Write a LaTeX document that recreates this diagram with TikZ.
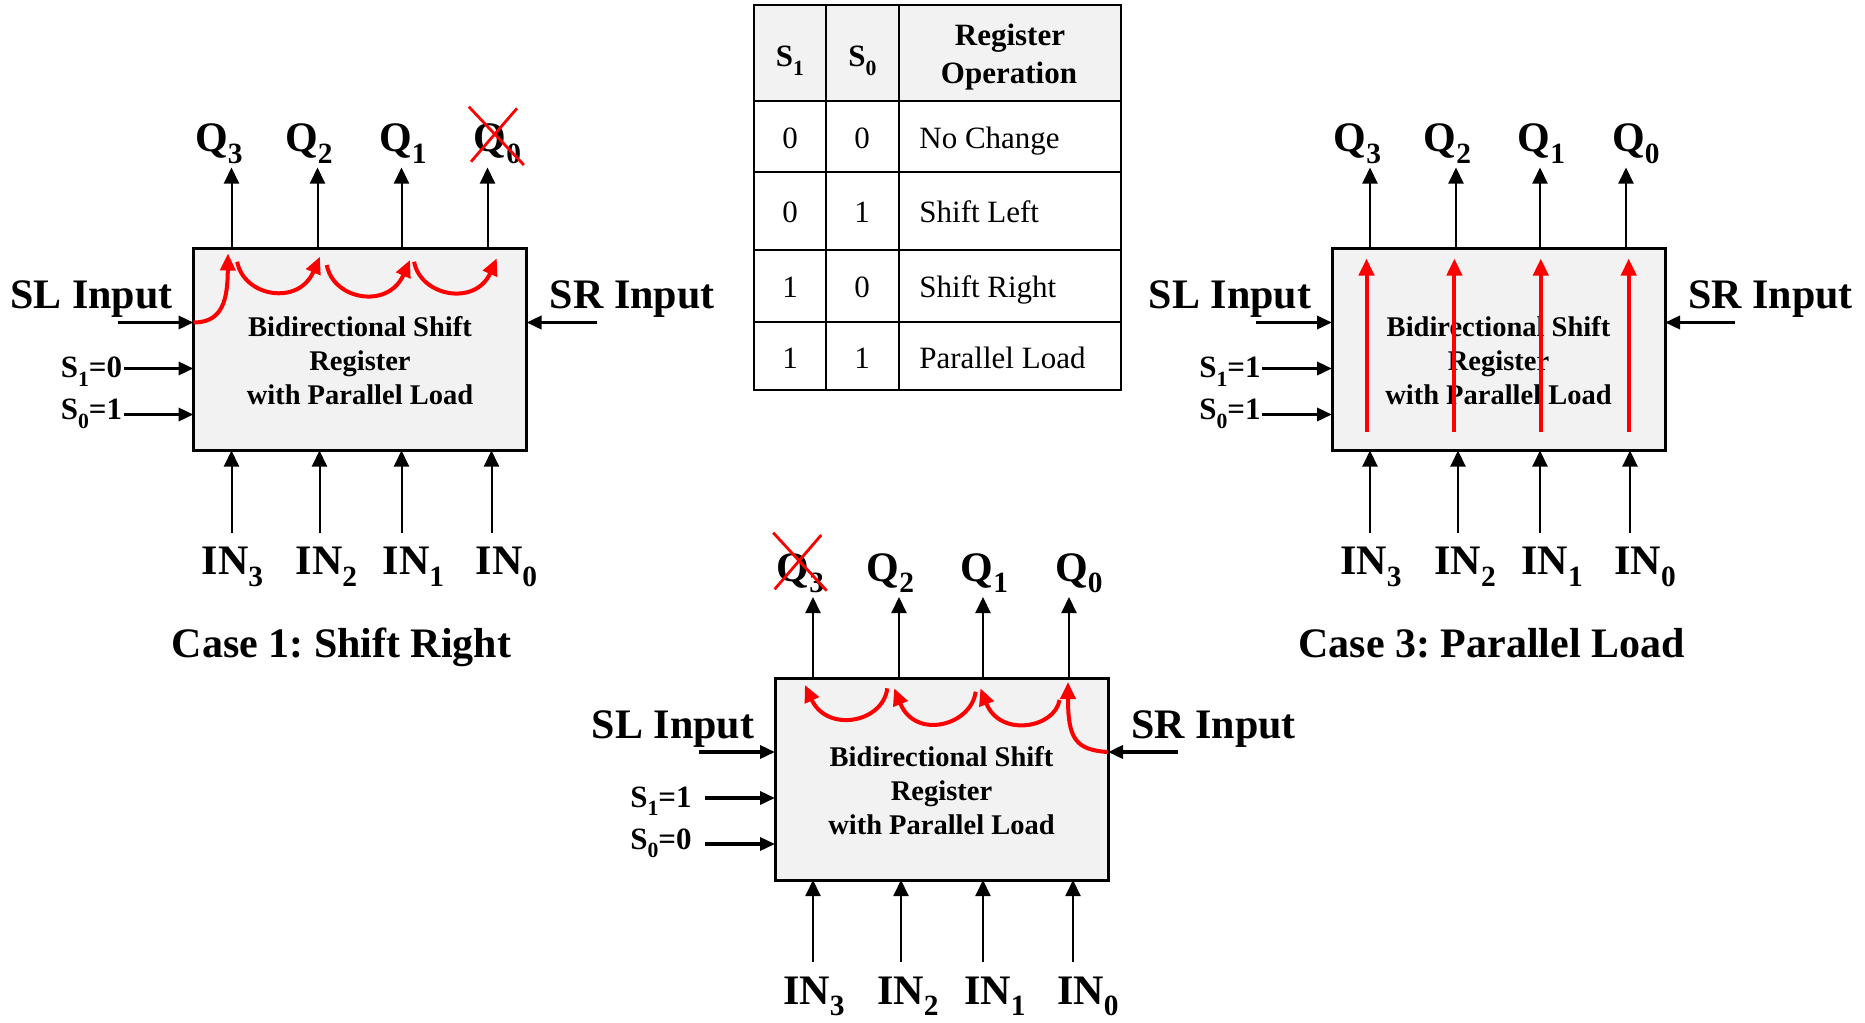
\documentclass[tikz,border=0pt]{standalone}
\usepackage{fontspec}
\setmainfont{Liberation Serif}
\usetikzlibrary{arrows.meta}
\definecolor{boxgray}{HTML}{F2F2F2}
\frenchspacing
\newcommand\lsub[1]{\raisebox{-0.28em}{\scalebox{0.7}{#1}}}
\tikzset{
 regbox/.style={draw, line width=1.5pt, fill=boxgray, minimum width=166.5pt, minimum height=101pt, inner sep=0pt, outer sep=0pt},
 boxtext/.style={font=\fontsize{14.25}{17}\selectfont\bfseries, align=center, inner sep=0pt},
 biglab/.style={font=\fontsize{21}{25}\selectfont\bfseries, inner sep=0pt, anchor=base},
 slab/.style={font=\fontsize{15.5}{18}\selectfont\bfseries, inner sep=0pt, anchor=base east},
 thinarrow/.style={line width=1pt, -{Triangle[length=8pt,width=7.5pt]}},
 thickarrow/.style={line width=1.75pt, -{Triangle[length=7.5pt,width=6.5pt]}},
 redarrow/.style={red, line width=2pt, -{Triangle[length=8.5pt,width=7.5pt]}},
 crossline/.style={red, line width=1.4pt},
 tabtext/.style={font=\fontsize{15.5}{19}\selectfont, inner sep=0pt, anchor=base},
 tabhead/.style={font=\fontsize{15.5}{19}\selectfont\bfseries, inner sep=0pt, anchor=base},
 tabline/.style={line width=1.15pt},
}
% #1 name, #2 shift, #3 S1 value, #4 S0 value, #5 x of S label right edge
\newcommand\regblock[5]{%
\begin{scope}[shift={#2}]
 \node[regbox] (#1) at (166.5,101) {};
 \node[boxtext] (#1-txt) at (166.5,112.5) {Bidirectional Shift\\Register\\with Parallel Load};
 \foreach \k/\xa/\xl in {3/38/25.5, 2/124/115.5, 1/208/209.5, 0/294/304}{
  \coordinate (#1-qs\k) at (\xa,0);
  \coordinate (#1-qe\k) at (\xa,-81);
  \node[biglab] (#1-q\k) at (\xl,-97) {Q\lsub{\k}};
  \draw[thinarrow] (#1-qs\k) -- (#1-qe\k);
 }
 \foreach \k/\xa/\xl in {3/38/39, 2/126/133, 1/208/220, 0/298/313}{
  \coordinate (#1-is\k) at (\xa,284);
  \coordinate (#1-ie\k) at (\xa,202);
  \node[biglab] (#1-in\k) at (\xl,326) {IN\lsub{\k}};
  \draw[thinarrow] (#1-is\k) -- (#1-ie\k);
 }
 \node[biglab, anchor=base east] (#1-sl) at (-20.5,60) {SL Input};
 \coordinate (#1-sls) at (-76,74);
 \draw[thickarrow] (#1-sls) -- (#1.west |- #1-sls);
 \node[biglab, anchor=base west] (#1-sr) at (356,60) {SR Input};
 \coordinate (#1-srs) at (403,74);
 \draw[thickarrow] (#1-srs) -- (#1.east |- #1-srs);
 \coordinate (#1-s1s) at (-70,120);
 \draw[thickarrow] (#1-s1s) -- (#1.west |- #1-s1s);
 \coordinate (#1-s0s) at (-70,166);
 \draw[thickarrow] (#1-s0s) -- (#1.west |- #1-s0s);
 \node[slab] (#1-s1) at (#5,129) {S\lsub{1}=#3};
 \node[slab] (#1-s0) at (#5,171) {S\lsub{0}=#4};
\end{scope}}
\begin{document}
\begin{tikzpicture}[x=0.5pt,y=-0.5pt]
\useasboundingbox (0,0) rectangle (1865,1023);

% ---------- table ----------
\fill[boxgray] (754,5) rectangle (1121,101);
\draw[tabline] (754,5) rectangle (1121,390);
\foreach \yy in {101,171.7,250,321.7} \draw[tabline] (754,\yy) -- (1121,\yy);
\foreach \xx in {825.7,899} \draw[tabline] (\xx,5) -- (\xx,390);
\node[tabhead] (th1) at (790,66.7) {S\lsub{1}};
\node[tabhead] (th0) at (862.5,66.7) {S\lsub{0}};
\node[tabhead] (thop1) at (1010,45) {Register};
\node[tabhead] (thop2) at (1009,83.3) {Operation};
\foreach \r/\a/\b/\t/\y in {1/0/0/No Change/148.3, 2/0/1/Shift Left/222.7, 3/1/0/Shift Right/297.7, 4/1/1/Parallel Load/368.3}{
 \node[tabtext] (t\r-a) at (790,\y) {\a};
 \node[tabtext] (t\r-b) at (862,\y) {\b};
 \node[tabtext, anchor=base west] (t\r-c) at (919,\y) {\t};
}

% ---------- registers ----------
\regblock{ra}{(193.5,248.5)}{0}{1}{-71}
\regblock{rb}{(775,678)}{1}{0}{-83}
\regblock{rc}{(1332,248.5)}{1}{1}{-71}

\node[biglab] (case1) at (341.5,657) {Case 1: Shift Right};
\node[biglab] (case3) at (1491.5,657) {Case 3: Parallel Load};

% ---------- case 1: shift right ----------
\begin{scope}[shift={(193.5,248.5)}]
 \draw[redarrow] (ra.west |- ra-sls) .. controls (30,74) and (34,50) .. (34.5,5);
 \draw[redarrow] (43.7,13.2) .. controls (50,48) and (105,58) .. (126.4,8.2);
 \draw[redarrow] (133.3,16.5) .. controls (139.6,51.3) and (194.6,61.3) .. (216.5,11.5);
 \draw[redarrow] (220.6,13.2) .. controls (227,48) and (282,58) .. (303.3,9.8);
\end{scope}
\draw[crossline] (468.8,106.7) -- (523.9,165);
\draw[crossline] (517,108.3) -- (471,161.7);

% ---------- case 2: shift left ----------
\begin{scope}[shift={(775,678)}]
 \draw[redarrow] (rb.east |- rb-srs) .. controls (300,72) and (293,60) .. (293,4);
 \draw[redarrow] (284.5,22) .. controls (280,50) and (225,60) .. (205.4,10.3);
 \draw[redarrow] (200.7,13.7) .. controls (196,48) and (140,62) .. (119.2,10.3);
 \draw[redarrow] (112.3,10.3) .. controls (108,45) and (52,55) .. (29.9,7);
\end{scope}
\draw[crossline] (773.2,532.7) -- (826.7,590.7);
\draw[crossline] (821.2,535) -- (774.6,589.3);

% ---------- case 3: parallel load ----------
\begin{scope}[shift={(1332,248.5)}]
 \foreach \xx in {34.5,122.4,208.8,296.7}
  \draw[redarrow] (\xx,183) -- (\xx,10);
\end{scope}
\end{tikzpicture}
\end{document}
